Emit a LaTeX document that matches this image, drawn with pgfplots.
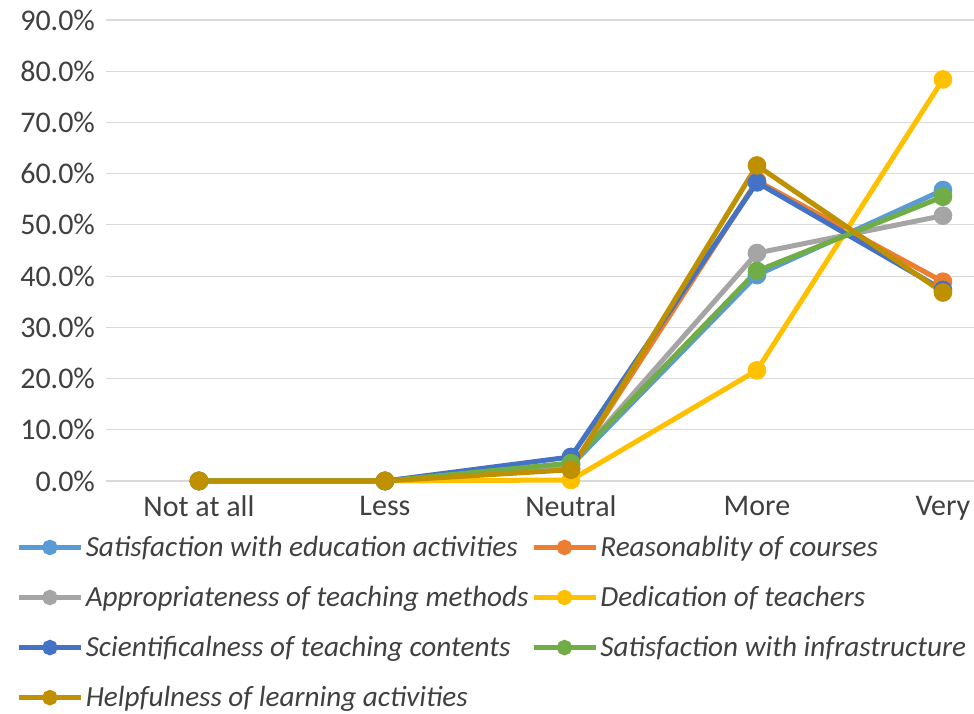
\documentclass[border=0pt]{standalone}
\usepackage{pgfplots}
\pgfplotsset{compat=1.18}
\usepackage{fontspec}
\setmainfont{Carlito}
\definecolor{c1}{HTML}{5B9BD5}
\definecolor{c2}{HTML}{ED7D31}
\definecolor{c3}{HTML}{A5A5A5}
\definecolor{c4}{HTML}{FFC000}
\definecolor{c5}{HTML}{4472C4}
\definecolor{c6}{HTML}{70AD47}
\definecolor{c7}{HTML}{BF9000}
\definecolor{gridc}{HTML}{D9D9D9}
\definecolor{txt}{HTML}{404040}
\begin{document}
\begin{tikzpicture}
\begin{axis}[
  name=ax,
  scale only axis,
  width=434pt, height=230.5pt,
  xmin=-0.5, xmax=4.167,
  ymin=0, ymax=90,
  xtick={0,1,2,3,4},
  xticklabels={Not at all,Less,Neutral,More,Very},
  ytick={0,10,...,90},
  yticklabel={\pgfmathprintnumber[fixed,fixed zerofill,precision=1]{\tick}\%},
  /pgf/number format/assume math mode=true,
  ymajorgrids,
  grid style={gridc, line width=0.6pt},
  axis line style={draw=none},
  major tick length=0pt,
  ticklabel style={font=\fontsize{15}{18}\selectfont, text=txt},
  xticklabel style={yshift=-4pt},
  yticklabel style={xshift=-2pt},
  clip=false,
  every axis plot/.append style={line width=2.5pt, mark=*, mark size=3.4pt},
  legend columns=2,
  legend cell align=left,
  legend style={at={(0,0)}, anchor=north west, xshift=-45pt, yshift=-26pt,
    draw=none, fill=none, font=\itshape\fontsize{14.6}{17}\selectfont, text=txt,
    row sep=11pt, inner sep=0pt,
    nodes={inner sep=1.2pt},
    /tikz/every even column/.append style={column sep=0pt}},
  legend image code/.code={
    \draw[#1, mark size=2.6pt, line width=2.5pt, mark repeat=2, mark phase=2] plot coordinates {(0pt,0pt) (15.5pt,0pt) (31pt,0pt)};
  },
]
\addplot[c1, mark options={fill=c1}] coordinates {(0,0) (1,0) (2,3.0) (3,40.2) (4,56.8)};
\addlegendentry{Satisfaction with education activities}
\addplot[c2, mark options={fill=c2}] coordinates {(0,0) (1,0) (2,2.5) (3,58.6) (4,38.9)};
\addlegendentry{Reasonablity of courses}
\addplot[c3, mark options={fill=c3}] coordinates {(0,0) (1,0) (2,3.2) (3,44.5) (4,51.8)};
\addlegendentry{Appropriateness of teaching methods}
\addplot[c4, mark options={fill=c4}] coordinates {(0,0) (1,0) (2,0.2) (3,21.6) (4,78.4)};
\addlegendentry{Dedication of teachers}
\addplot[c5, mark options={fill=c5}] coordinates {(0,0) (1,0) (2,4.7) (3,58.3) (4,37.3)};
\addlegendentry{Scientificalness of teaching contents}
\addplot[c6, mark options={fill=c6}] coordinates {(0,0) (1,0) (2,3.5) (3,41.0) (4,55.5)};
\addlegendentry{Satisfaction with infrastructure}
\addplot[c7, mark options={fill=c7}] coordinates {(0,0) (1,0) (2,2.2) (3,61.6) (4,36.8)};
\addlegendentry{Helpfulness of learning activities}
\end{axis}
\pgfresetboundingbox
\useasboundingbox ([xshift=-53pt, yshift=-116.5pt]ax.south west) rectangle ([yshift=10pt]ax.north east);
\end{tikzpicture}
\end{document}
